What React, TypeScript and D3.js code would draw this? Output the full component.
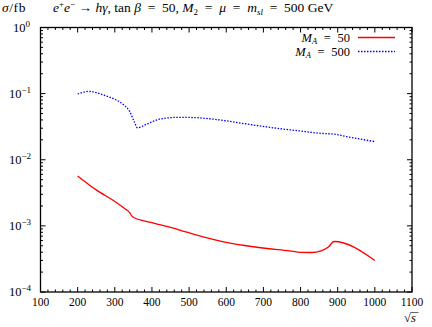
import React, { useEffect, useRef } from 'react';
import * as d3 from 'd3';

// x axis: sqrt(s) in GeV, y axis: sigma / fb (log)
const xTickLabels = [100, 200, 300, 400, 500, 600, 700, 800, 900, 1000, 1100];
const yTickExponents = [0, -1, -2, -3, -4];

// M_A = 50 (red, solid)
const sqrtS50 = [200, 250, 300, 330, 340, 345, 350, 400, 470, 530, 590, 650, 710, 770, 800, 830, 855, 875, 890, 1000];
const sigma50 = [0.0057, 0.0035, 0.00234, 0.00177, 0.00159, 0.00143, 0.00135, 0.00112, 0.00088, 0.0007, 0.00058, 0.000505, 0.000455, 0.00042, 0.000398, 0.000396, 0.00042, 0.00048, 0.00058, 0.0003];

// M_A = 500 (blue, dotted)
const sqrtS500 = [200, 230, 270, 300, 325, 340, 352, 361, 385, 420, 470, 510, 570, 655, 745, 800, 850, 870, 888, 925, 1000];
const sigma500 = [0.0987, 0.108, 0.095, 0.082, 0.067, 0.054, 0.038, 0.0305, 0.0344, 0.041, 0.0438, 0.0435, 0.0408, 0.0347, 0.0295, 0.0272, 0.0252, 0.0248, 0.0245, 0.0223, 0.0188];

const legendLabels = ['50', '500'];

const FONT = '"Liberation Serif", "DejaVu Serif", serif';

const App = () => {
  const ref = useRef<SVGSVGElement>(null);

  useEffect(() => {
    const svg = d3.select(ref.current);
    svg.selectAll('*').remove();

    const left = 40.5, right = 412, top = 27.5, bottom = 292;

    const x = d3.scaleLinear().domain([100, 1100]).range([left, right]);
    const y = d3.scaleLog().domain([1e-4, 1]).range([bottom, top]);

    const g = svg.append('g');

    // tics, mirrored on all four sides, pointing inward
    const tics = g.append('g').attr('stroke', '#000').attr('stroke-width', 1);
    const minorX = d3.range(100, 1101, 20).filter(v => v % 100 !== 0);
    xTickLabels.forEach(v => {
      tics.append('line').attr('x1', x(v)).attr('x2', x(v)).attr('y1', bottom).attr('y2', bottom - 5);
      tics.append('line').attr('x1', x(v)).attr('x2', x(v)).attr('y1', top).attr('y2', top + 5);
    });
    minorX.forEach(v => {
      tics.append('line').attr('x1', x(v)).attr('x2', x(v)).attr('y1', bottom).attr('y2', bottom - 2.5);
      tics.append('line').attr('x1', x(v)).attr('x2', x(v)).attr('y1', top).attr('y2', top + 2.5);
    });
    yTickExponents.forEach(e => {
      const v = Math.pow(10, e);
      tics.append('line').attr('x1', left).attr('x2', left + 5).attr('y1', y(v)).attr('y2', y(v));
      tics.append('line').attr('x1', right).attr('x2', right - 5).attr('y1', y(v)).attr('y2', y(v));
      if (e > -4) {
        d3.range(2, 10).forEach(m => {
          const mv = v * m / 10;
          tics.append('line').attr('x1', left).attr('x2', left + 2.5).attr('y1', y(mv)).attr('y2', y(mv));
          tics.append('line').attr('x1', right).attr('x2', right - 2.5).attr('y1', y(mv)).attr('y2', y(mv));
        });
      }
    });

    // frame
    g.append('rect')
      .attr('x', left).attr('y', top)
      .attr('width', right - left).attr('height', bottom - top)
      .attr('fill', 'none').attr('stroke', '#000').attr('stroke-width', 1.3);

    // x labels
    xTickLabels.forEach(v => {
      g.append('text')
        .attr('x', x(v)).attr('y', 306)
        .attr('text-anchor', 'middle')
        .attr('font-family', FONT).attr('font-size', 11.5)
        .text(v);
    });

    // y labels 10^e
    yTickExponents.forEach(e => {
      const t = g.append('text')
        .attr('x', e === 0 ? 30 : 31).attr('y', y(Math.pow(10, e)) + 4)
        .attr('text-anchor', 'end')
        .attr('font-family', FONT).attr('font-size', 12.5);
      t.append('tspan').text('10');
      t.append('tspan').attr('dy', -5).attr('font-size', 9).text(e === 0 ? '0' : '\u2212' + Math.abs(e));
    });

    // sqrt(s)
    const sx = g.append('text').attr('x', 404).attr('y', 322)
      .attr('font-family', FONT).attr('font-size', 12.5);
    sx.append('tspan').text('\u221A');
    sx.append('tspan').attr('font-style', 'italic').text('s');
    g.append('line').attr('x1', 411).attr('x2', 418.5).attr('y1', 312.5).attr('y2', 312.5)
      .attr('stroke', '#000').attr('stroke-width', 0.6);

    // title
    const ylab = g.append('text').attr('x', 2).attr('y', 12)
      .attr('font-family', FONT).attr('font-size', 13.5).attr('letter-spacing', 0.6);
    ylab.append('tspan').attr('font-style', 'italic').text('\u03C3');
    ylab.append('tspan').text('/fb');

    const title = g.append('text').attr('x', 53).attr('y', 12)
      .attr('font-family', FONT).attr('font-size', 13.5);
    const sp = 3.4;
    title.append('tspan').attr('font-style', 'italic').text('e');
    title.append('tspan').attr('dy', -5).attr('font-size', 9).text('+');
    title.append('tspan').attr('dy', 5).attr('font-style', 'italic').text('e');
    title.append('tspan').attr('dy', -5).attr('font-size', 9).text('\u2212');
    title.append('tspan').attr('dy', 5).attr('dx', sp).text('\u2192');
    title.append('tspan').attr('font-style', 'italic').text(' h\u03B3');
    title.append('tspan').text(', tan ');
    title.append('tspan').attr('font-style', 'italic').text('\u03B2');
    title.append('tspan').attr('dx', sp).text(' =');
    title.append('tspan').attr('dx', sp).text(' 50, ');
    title.append('tspan').attr('font-style', 'italic').text('M');
    title.append('tspan').attr('dy', 2.5).attr('font-size', 9).text('2');
    title.append('tspan').attr('dy', -2.5).attr('dx', sp).text(' =');
    title.append('tspan').attr('dx', sp).attr('font-style', 'italic').text(' \u03BC');
    title.append('tspan').attr('dx', sp).text(' =');
    title.append('tspan').attr('dx', sp).attr('font-style', 'italic').text(' m');
    title.append('tspan').attr('dy', 2.5).attr('font-size', 9).attr('font-style', 'italic').text('sl');
    title.append('tspan').attr('dy', -2.5).attr('dx', sp).text(' =');
    title.append('tspan').attr('dx', sp).text(' 500 GeV');

    // curves
    const line = d3.line<[number, number]>()
      .x(d => x(d[0]))
      .y(d => y(d[1]))
      .curve(d3.curveMonotoneX);

    const curves = g.append('g');
    curves.append('path')
      .datum(sqrtS50.map((v, i) => [v, sigma50[i]] as [number, number]))
      .attr('fill', 'none').attr('stroke', '#ff0000').attr('stroke-width', 1.3)
      .attr('d', line);
    curves.append('path')
      .datum(sqrtS500.map((v, i) => [v, sigma500[i]] as [number, number]))
      .attr('fill', 'none').attr('stroke', '#0000ff').attr('stroke-width', 1.3)
      .attr('stroke-dasharray', '1.5,1.5')
      .attr('d', line);

    // legend
    const styles = [
      { stroke: '#ff0000', dash: null },
      { stroke: '#0000ff', dash: '1.5,1.5' },
    ];
    legendLabels.forEach((lab, i) => {
      const ly = 37.5 + i * 14;
      const t = g.append('text').attr('x', 350).attr('y', ly + 4)
        .attr('text-anchor', 'end')
        .attr('font-family', FONT).attr('font-size', 12.5);
      t.append('tspan').attr('font-style', 'italic').text('M');
      t.append('tspan').attr('dy', 2).attr('font-size', 8.5).attr('font-style', 'italic').text('A');
      t.append('tspan').attr('dy', -2).attr('dx', 3.5).text(' =');
      t.append('tspan').attr('dx', 3.5).text(' ' + lab);
      g.append('line').attr('x1', 358).attr('x2', 395).attr('y1', ly).attr('y2', ly)
        .attr('stroke', styles[i].stroke).attr('stroke-width', 1.3)
        .attr('stroke-dasharray', styles[i].dash);
    });
  }, []);

  return (
    <svg
      ref={ref}
      width={432}
      height={327}
      style={{ position: 'absolute', left: 0, top: 0, background: '#fff' }}
    />
  );
};

export default App;
